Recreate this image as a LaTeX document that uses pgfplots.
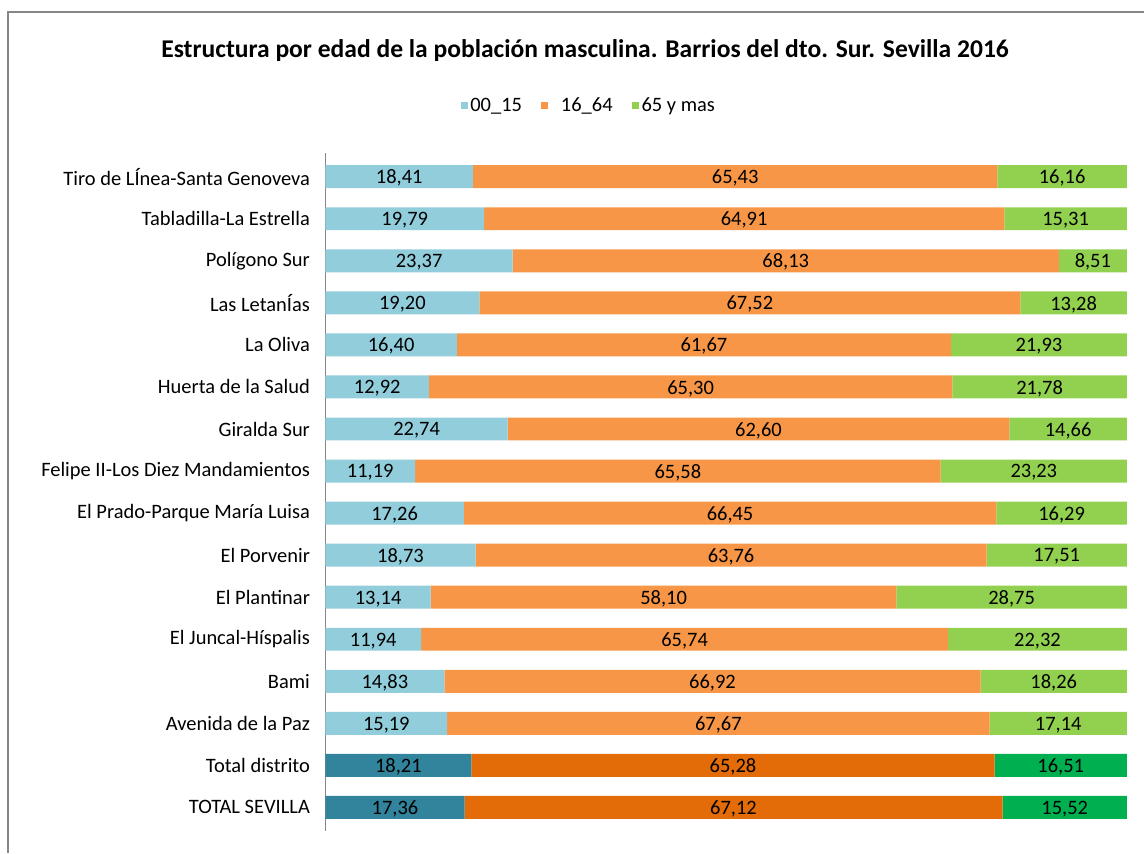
\documentclass[border=0pt]{standalone}
\usepackage{pgfplots}
\pgfplotsset{compat=1.18}
\usepackage{pgfplotstable}
\usepackage{fontspec}
\setmainfont{Carlito}
\definecolor{cA}{HTML}{92CDDC}
\definecolor{cB}{HTML}{F79646}
\definecolor{cC}{HTML}{92D050}
\definecolor{dA}{HTML}{31849B}
\definecolor{dB}{HTML}{E36C09}
\definecolor{dC}{HTML}{00B050}
\definecolor{frame}{HTML}{868686}
\pgfplotstableread{
y a b c
2 15.19 67.67 17.14
3 14.83 66.92 18.26
4 11.94 65.74 22.32
5 13.14 58.10 28.75
6 18.73 63.76 17.51
7 17.26 66.45 16.29
8 11.19 65.58 23.23
9 22.74 62.60 14.66
10 12.92 65.30 21.78
11 16.40 61.67 21.93
12 19.20 67.52 13.28
13 23.37 68.13 8.51
14 19.79 64.91 15.31
15 18.41 65.43 16.16
}\barrios
\pgfplotstableread{
y a b c
0 17.36 67.12 15.52
1 18.21 65.28 16.51
}\totales
\pgfplotsset{
  common/.style={
    scale only axis, width=803pt, height=679pt,
    at={(326pt,22pt)}, anchor=south west,
    xmin=0, xmax=100.02, ymin=-0.55, ymax=15.57,
    xbar stacked, bar width=23pt,
    /pgf/number format/assume math mode=true,
    nodes near coords={\pgfmathprintnumber[fixed,fixed zerofill,precision=2,use comma]{\rawx}},
    every node near coord/.append style={font=\fontsize{20.5}{24}\selectfont, text=black,
      anchor=center, yshift=-1.5pt},
  },
}
\begin{document}
\begin{tikzpicture}
\path (0,0) rectangle (1145pt,854pt);
\draw[frame, line width=2pt] (8pt,0) -- (8pt,842pt) -- (1146pt,842pt);
\node[font=\fontsize{25.6}{30}\selectfont\bfseries] at (586pt,803pt) {Estructura por edad de la población masculina. Barrios del dto. Sur. Sevilla 2016};
\begin{axis}[common,
  hide x axis,
  axis y line*=left,
  y axis line style={frame, line width=1.5pt},
  ytick={0,...,15},
  major tick length=0pt,
  yticklabels={TOTAL SEVILLA, Total distrito, Avenida de la Paz, Bami, El Juncal-Híspalis, El Plantinar, El Porvenir, El Prado-Parque María Luisa, Felipe II-Los Diez Mandamientos, Giralda Sur, Huerta de la Salud, La Oliva, Las LetanÍas, Polígono Sur, Tabladilla-La Estrella, Tiro de LÍnea-Santa Genoveva},
  yticklabel style={font=\fontsize{20.5}{24}\selectfont, text=black, xshift=-12pt},
  legend style={at={(0.329,1.07)}, anchor=center, draw=none, legend columns=3,
    font=\fontsize{20.5}{24}\selectfont, nodes={inner xsep=2.5pt},
    /tikz/every even column/.append style={column sep=17pt}},
  legend image code/.code={\fill[#1] (0pt,-3.5pt) rectangle (7pt,3.5pt);},
]
\addplot[fill=cA, draw=none, visualization depends on={\thisrow{a} \as \rawx}] table[x=a,y=y] {\barrios};
\addlegendentry{00\_15}
\addplot[fill=cB, draw=none, visualization depends on={\thisrow{b} \as \rawx}] table[x=b,y=y] {\barrios};
\addlegendentry{\hspace{10pt}16\_64}
\addplot[fill=cC, draw=none, visualization depends on={\thisrow{c} \as \rawx}] table[x=c,y=y] {\barrios};
\addlegendentry{65 y mas}
\end{axis}
\begin{axis}[common, hide axis]
\addplot[fill=dA, draw=none, visualization depends on={\thisrow{a} \as \rawx}] table[x=a,y=y] {\totales};
\addplot[fill=dB, draw=none, visualization depends on={\thisrow{b} \as \rawx}] table[x=b,y=y] {\totales};
\addplot[fill=dC, draw=none, visualization depends on={\thisrow{c} \as \rawx}] table[x=c,y=y] {\totales};
\end{axis}
\end{tikzpicture}
\end{document}
